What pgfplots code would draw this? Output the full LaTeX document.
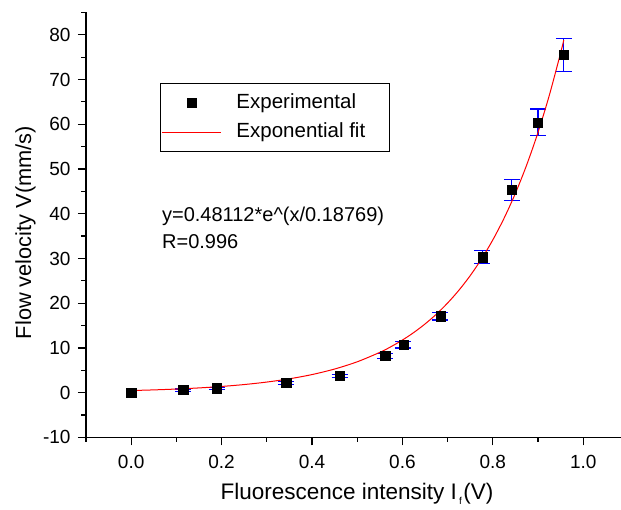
\documentclass[border=0pt]{standalone}
\usepackage{fontspec}
\setmainfont{Liberation Sans}
\usepackage{pgfplots}
\pgfplotsset{compat=1.18}
\usepackage{pgfplotstable}
\pgfplotsset{/pgfplots/error bars/draw error bar/.code 2 args={%
    \draw[draw=blue, line width=1.2pt] #1 -- #2;
    \draw[draw=blue, line width=1.2pt] #2 ++(-8pt,0pt) -- ++(16pt,0pt);}}

\pgfplotstableread{
x y err
0.000 0.0 0
0.115 0.6 0.25
0.190 1.0 0.25
0.343 2.2 0.3
0.461 3.8 0.35
0.562 8.2 0.6
0.602 10.7 0.7
0.684 17.1 0.85
0.777 30.3 1.5
0.842 45.3 2.3
0.900 60.4 3.0
0.957 75.5 3.65
}\expdata

\pgfplotstableread{
x y
0.000 0.481
0.050 0.628
0.100 0.820
0.150 1.070
0.200 1.397
0.250 1.823
0.300 2.379
0.350 3.105
0.400 4.053
0.450 5.291
0.500 6.906
0.550 9.014
0.575 10.30
0.600 11.766
0.625 13.44
0.650 15.356
0.675 17.54
0.700 20.044
0.725 22.90
0.750 26.162
0.775 29.89
0.800 34.148
0.825 39.01
0.850 44.572
0.875 50.92
0.900 58.18
0.925 66.47
0.950 75.93
0.957 78.82
}\fitdata

\begin{document}
\begin{tikzpicture}
\useasboundingbox (0pt,0pt) rectangle (621pt,509pt);
\begin{axis}[
  at={(86pt,71.55pt)}, anchor=south west,
  scale only axis, width=535pt, height=425.1pt,
  xmin=-0.1, xmax=1.0836, ymin=-10, ymax=85,
  axis x line*=bottom, axis y line*=left,
  axis line style={line width=1.4pt, black},
  tick style={black, line width=1.2pt},
  major tick length=8pt, minor tick length=4.5pt,
  tick align=outside,
  xtick={0,0.2,0.4,0.6,0.8,1.0},
  minor xtick={-0.1,0.1,0.3,0.5,0.7,0.9},
  ytick={-10,0,10,20,30,40,50,60,70,80},
  minor ytick={-5,5,15,25,35,45,55,65,75,85},
  /pgf/number format/assume math mode=true,
  tick label style={font=\fontsize{19}{22}\selectfont},
  xticklabel style={yshift=-6pt, /pgf/number format/.cd, fixed, fixed zerofill, precision=1},
  yticklabel style={xshift=-4pt},
  xlabel={Fluorescence intensity I\kern2pt\raisebox{-0.45ex}{\fontsize{10}{12}\selectfont f}\kern1.5pt(V)},
  ylabel={Flow velocity V(mm/s)},
  xlabel style={font=\fontsize{22.5}{26}\selectfont, at={(axis description cs:0.5065,-0.1455)}, anchor=base},
  ylabel style={font=\fontsize{21.8}{26}\selectfont, at={(axis description cs:-0.1028,0.482)}, anchor=base, rotate=0},
  legend style={at={(axis cs:0.0648,69.2)}, anchor=north west, draw=black,
    line width=1pt, inner xsep=0.5pt, inner ysep=9.5pt,
    font=\fontsize{20.5}{24}\selectfont,
    nodes={inner sep=0pt, text height=15pt, text depth=5pt},
    row sep=9pt},
  legend cell align=left,
]
\addplot[black, only marks, mark=square*, mark size=4.6pt,
  legend image code/.code={\path[draw=none] (0pt,0pt) -- (59pt,0pt);
    \fill[black] (25.5pt,-4.6pt) rectangle (34.7pt,4.6pt);}]
  table[x=x, y=y] {\expdata};
\addlegendentry{\hspace*{15pt}Experimental}
\addplot[draw=none, mark=none, forget plot, skip coords between index={0}{1},
  error bars/.cd, y dir=both, y explicit]
  table[x=x, y=y, y error=err] {\expdata};
\addplot[red, line width=1pt, smooth, no marks,
  legend image code/.code={\draw[red, line width=1pt] (0pt,0pt) -- (59pt,0pt);}]
  table[x=x, y=y] {\fitdata};
\addlegendentry{\hspace*{15pt}Exponential fit\hspace*{24pt}}
\node[anchor=base west, inner sep=0pt, font=\fontsize{20}{24}\selectfont]
  at (axis cs:0.068,38.26) {y=0.48112*e\textasciicircum(x/0.18769)};
\node[anchor=base west, inner sep=0pt, font=\fontsize{20}{24}\selectfont]
  at (axis cs:0.068,32.27) {R=0.996};
\end{axis}
\end{tikzpicture}
\end{document}
